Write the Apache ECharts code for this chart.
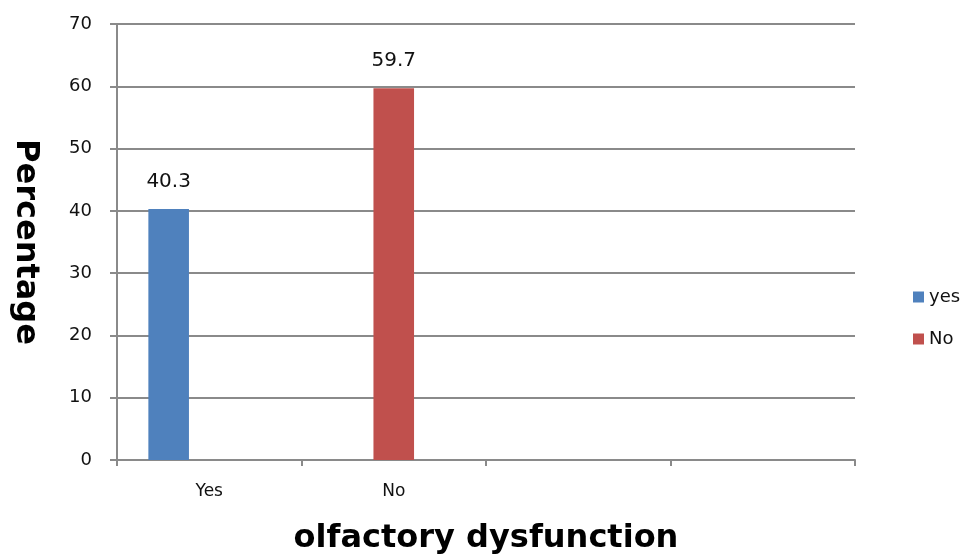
<!DOCTYPE html>
<html>
<head>
<meta charset="utf-8">
<script src="https://cdn.jsdelivr.net/npm/echarts@6/dist/echarts.min.js"></script>
<style>
html,body{margin:0;padding:0;background:#fff;}
#chart{width:961px;height:560px;}
</style>
</head>
<body>
<div id="chart"></div>
<script>
var categories = ['Yes', 'No', '', ''];
var seriesNames = ['yes', 'No'];
var yesValues = [40.3, null, null, null];
var noValues = [null, 59.7, null, null];
var blankValues = [null, null, null, null];
var yTicks = { min: 0, max: 70, interval: 10 };

var chart = echarts.init(document.getElementById('chart'), null, { renderer: 'canvas' });
var gridColor = '#8a8a8a';
var font = 'DejaVu Sans';

var labelStyle = {
  show: true,
  position: 'top',
  distance: 17,
  fontFamily: font,
  fontSize: 20,
  color: '#111'
};

chart.setOption({
  animation: false,
  backgroundColor: '#ffffff',
  grid: { left: 117, right: 106, top: 24, bottom: 98, containLabel: false },
  legend: {
    data: seriesNames,
    orient: 'vertical',
    left: 908,
    top: 283,
    itemWidth: 11,
    itemHeight: 11,
    itemGap: 24,
    icon: 'rect',
    textStyle: { fontFamily: font, fontSize: 18, color: '#111' }
  },
  xAxis: {
    type: 'category',
    data: categories,
    boundaryGap: true,
    name: 'olfactory dysfunction',
    nameLocation: 'middle',
    nameGap: 63,
    nameTextStyle: { fontFamily: font, fontSize: 32, fontWeight: 'bold', color: '#000' },
    axisLine: { show: true, lineStyle: { color: gridColor, width: 2 } },
    axisTick: { show: true, interval: 0, length: 6, lineStyle: { color: gridColor, width: 2 } },
    axisLabel: { interval: 0, margin: 23, fontFamily: font, fontSize: 17, color: '#111' },
    splitLine: { show: false }
  },
  yAxis: {
    type: 'value',
    min: yTicks.min,
    max: yTicks.max,
    interval: yTicks.interval,
    name: 'Percentage',
    nameLocation: 'middle',
    nameRotate: -90,
    nameGap: 76,
    nameTextStyle: { fontFamily: font, fontSize: 32, fontWeight: 'bold', color: '#000' },
    axisLine: { show: true, lineStyle: { color: gridColor, width: 2 } },
    axisTick: { show: true, length: 7, lineStyle: { color: gridColor, width: 2 } },
    axisLabel: { margin: 25, fontFamily: font, fontSize: 18, color: '#111' },
    splitLine: { show: true, lineStyle: { color: gridColor, width: 2 } }
  },
  series: [
    {
      name: seriesNames[0],
      type: 'bar',
      data: yesValues,
      barGap: '0%',
      barCategoryGap: '34%',
      itemStyle: { color: '#4F81BD' },
      label: labelStyle
    },
    {
      name: seriesNames[1],
      type: 'bar',
      data: noValues,
      barGap: '0%',
      barCategoryGap: '34%',
      itemStyle: { color: '#C0504D' },
      label: labelStyle
    },
    {
      name: ' ',
      type: 'bar',
      data: blankValues,
      barGap: '0%',
      barCategoryGap: '34%',
      itemStyle: { color: '#9BBB59' }
    }
  ]
});
</script>
</body>
</html>
